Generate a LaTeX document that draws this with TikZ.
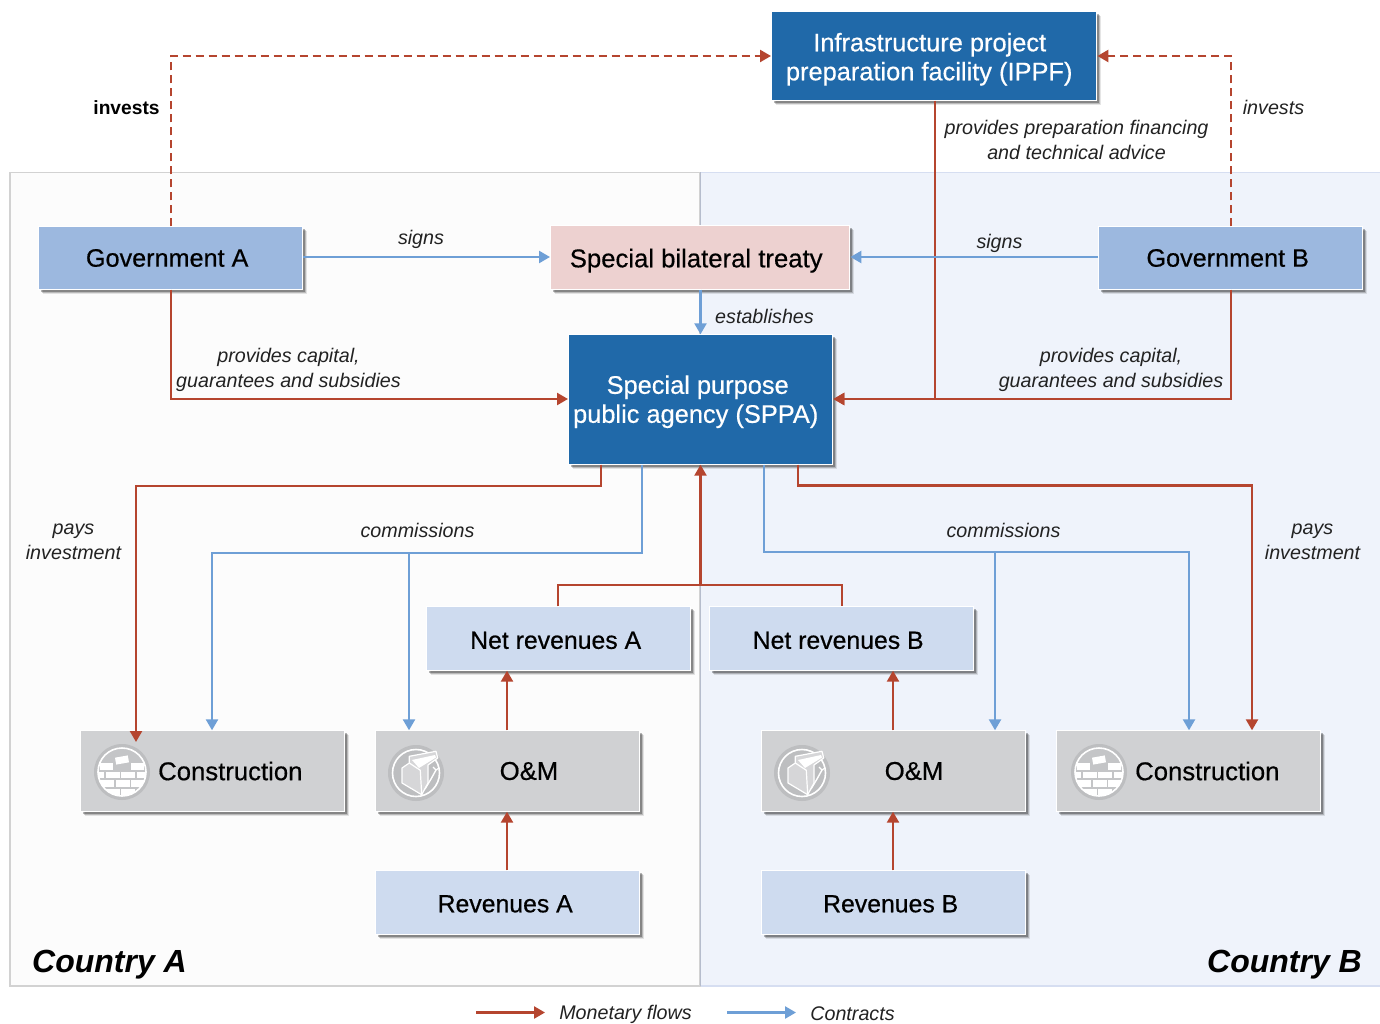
\documentclass[tikz,border=0pt]{standalone}
\usepackage{fontspec}
\setmainfont{Liberation Sans}
\newfontfamily\medfont[FakeBold=0.5]{Liberation Sans}
\usetikzlibrary{arrows.meta,shadows,calc}
\definecolor{moneyc}{HTML}{B5452F}
\definecolor{contractc}{HTML}{6E9FD6}
\definecolor{dkblue}{HTML}{2069A9}
\definecolor{midblue}{HTML}{9CB8DF}
\definecolor{ltblue}{HTML}{CEDBEF}
\definecolor{pinkb}{HTML}{EDD1D0}
\definecolor{greyb}{HTML}{D0D1D3}
\definecolor{iconring}{HTML}{BDBEC0}
\definecolor{iconfill}{HTML}{C4C5C7}
\definecolor{bgA}{HTML}{FCFCFC}
\definecolor{bgB}{HTML}{EFF3FB}
\definecolor{lineA}{HTML}{D2D2D2}
\definecolor{lineB}{HTML}{D6DEF1}
\definecolor{labelc}{HTML}{222222}
\newcommand{\boxfont}{\fontsize{25.7}{29}\selectfont\medfont}
\newcommand{\lowered}[2]{\raisebox{-#1pt}[\height][\depth]{\begin{tabular}{@{}c@{}}#2\end{tabular}}}
\tikzset{
  softshadow/.style={
    general shadow={shadow xshift=4.5pt,shadow yshift=-4.5pt,fill=black,opacity=.10},
    general shadow={shadow xshift=3.5pt,shadow yshift=-3.5pt,fill=black,opacity=.18},
    general shadow={shadow xshift=2.5pt,shadow yshift=-2.5pt,fill=black,opacity=.28}},
  boxbase/.style={softshadow,draw=white,line width=1pt,inner sep=0pt,align=center,font=\boxfont},
  dark/.style={boxbase,fill=dkblue,text=white,font=\fontsize{25.4}{29}\selectfont\medfont},
  gov/.style={boxbase,fill=midblue,text=black,minimum width=264.4pt,minimum height=62.4pt,font=\fontsize{25.2}{29}\selectfont\medfont},
  lite/.style={boxbase,fill=ltblue,text=black,minimum width=264.4pt,minimum height=63.4pt,font=\fontsize{24.8}{29}\selectfont\medfont},
  pinkbox/.style={boxbase,fill=pinkb,text=black},
  grey/.style={boxbase,fill=greyb,text=black,minimum width=264.4pt,minimum height=80.4pt},
  boxtext/.style={font=\boxfont,inner sep=0pt},
  tip/.style={-{Triangle[length=11pt,width=12pt]}},
  money/.style={tip,draw=moneyc,color=moneyc,line width=2.4pt},
  contract/.style={tip,draw=contractc,color=contractc,line width=2.4pt},
  lbl/.style={font=\fontsize{19.7}{25}\selectfont\itshape,text=labelc,inner sep=0pt,align=center},
  region/.style={font=\fontsize{32}{38}\selectfont\bfseries\itshape,text=black,inner sep=0pt},
}
\newcommand{\bricks}[2]{%
  \begin{scope}[shift={(#1,#2)}]
    \fill[iconring] (0,0) circle (28);
    \draw[white,line width=1.6pt,fill=iconfill] (0,0) circle (24);
    \begin{scope}
      \clip (0,0) circle (24);
      \foreach \xa/\xb/\y in {-22/-9/-5.5, 9/22/-5.5,
         -16.5/-2.5/3, -1/13/3, 14.5/27/3, -30/-18/3,
         -23/-8/11.5, -6.5/7.5/11.5, 9/24/11.5,
         -16.5/-2.5/20, -1/13/20, 14.5/27/20, -30/-18/20}{
        \fill[white] (\xa,\y-3.4) rectangle (\xb,\y+3.4);}
    \end{scope}
    \fill[white,rotate around={10:(0,-12)}] (-6.5,-15.5) rectangle (6.5,-8.5);
  \end{scope}}
\newcommand{\toolbox}[2]{%
  \begin{scope}[shift={(#1,#2)}]
    \fill[iconring] (0,0) circle (28);
    \draw[white,line width=1.6pt] (0,0) circle (23.5);
    \fill[iconfill!70!white,draw=white,line width=1.2pt,line join=round] (-14,-5) -- (-6.7,-10) -- (-6.7,-16.7) -- (20,-21.7) -- (21.7,-15) -- (12,-8) -- (12,10) -- (5.7,21.7) -- (-14,10) -- cycle;
    \fill[white] (-4,-13) -- (19,-18) -- (20,-15.5) -- (3,-5) -- cycle;
    \draw[white,line width=1.2pt] (-6.7,-10) -- (4.3,-2.7) -- (5.7,21.7);
    \draw[white,line width=1.4pt] (20,-3) -- (15,6) -- (9,16);
    \draw[white,line width=1.2pt] (17,-6) -- (20,-3) -- (23,-5);
  \end{scope}}
\begin{document}
\begin{tikzpicture}[x=1pt,y=-1pt]
\useasboundingbox (0,0) rectangle (1380,1024);
\fill[white] (0,0) rectangle (1380,1024);
% regions
\draw[fill=bgA,draw=lineA,line width=1.5pt] (10,172.5) rectangle (700,986);
\fill[bgB] (701,172.5) rectangle (1380,986);
\draw[lineB,line width=1.5pt] (701,172.5) -- (1380,172.5) (701,986) -- (1380,986);
\draw[lineB!85!black,line width=1.5pt] (700.5,172.5) -- (700.5,986);
% boxes
\node[dark,minimum width=325.4pt,minimum height=88.4pt] (ippf) at (934.2,56) {\lowered{4}{Infrastructure project\hspace*{9pt}\\preparation facility (IPPF)\hspace*{10pt}}};
\node[gov] (gova) at (170.7,258) {Government A\hspace*{7pt}};
\node[pinkbox,minimum width=299.4pt,minimum height=63.4pt] (treaty) at (700.2,257.5) {\lowered{4}{Special bilateral treaty\hspace*{8pt}}};
\node[gov] (govb) at (1230.7,258) {Government B\hspace*{6pt}};
\node[dark,minimum width=264.4pt,minimum height=129.4pt] (sppa) at (700.7,399.5) {\lowered{3}{Special purpose\hspace*{6pt}\\public agency (SPPA)\hspace*{10pt}}};
\node[lite] (neta) at (558.7,638.5) {\lowered{4.5}{Net revenues A\hspace*{6pt}}};
\node[lite] (netb) at (841.2,638.5) {\lowered{4.5}{Net revenues B\hspace*{6pt}}};
\node[grey] (consa) at (212.2,771) {};
\node[grey] (oma) at (507.7,771) {};
\node[grey] (omb) at (893.2,771) {};
\node[grey] (consb) at (1188.7,771) {};
\node[lite] (reva) at (507.7,902.5) {\lowered{4}{Revenues A\hspace*{5pt}}};
\node[lite] (revb) at (893.2,902.5) {\lowered{4}{Revenues B\hspace*{5pt}}};
% icons and box texts
\bricks{122}{772}
\bricks{1099}{772}
\toolbox{416}{773}
\toolbox{802}{773}
\node[boxtext,anchor=west] (tca) at (158,771) {Construction};
\node[boxtext] (toa) at (529,771) {O\&M};
\node[boxtext] (tob) at (914,771) {O\&M};
\node[boxtext,anchor=west] (tcb) at (1135,771) {Construction};
% free corner and end coordinates
\coordinate (tipca) at (136,742);
% dashed
\draw[money,dash pattern=on 8pt off 5pt] (gova.north -| 171,0) -- (171,56) -- (ippf.west);
\draw[money,dash pattern=on 8pt off 5pt] (govb.north -| 1231,0) -- (1231,56) -- (ippf.east);
% solid money to SPPA
\draw[money] (gova.south -| 171,0) -- (171,399) -- (sppa.west |- 0,399);
\draw[money] (govb.south -| 1231,0) -- (1231,399) -- (sppa.east |- 0,399);
\draw[money] (ippf.south -| 935,0) -- (935,399) -- (sppa.east |- 0,399);
% contracts top
\draw[contract] (gova.east |- 0,257) -- (treaty.west |- 0,257);
\draw[contract] (govb.west |- 0,257) -- (treaty.east |- 0,257);
\draw[contract] (treaty.south -| 700.5,0) -- (sppa.north -| 700.5,0);
% below SPPA
\draw[money] (sppa.south -| 601,0) -- (601,486) -- (136,486) -- (tipca);
\draw[contract] (sppa.south -| 642,0) -- (642,553) -- (212,553) -- (consa.north -| 212,0);
\draw[contract] (409,553) -- (oma.north -| 409,0);
\draw[contract] (sppa.south -| 764,0) -- (764,552) -- (1189,552) -- (consb.north -| 1189,0);
\draw[contract] (995,552) -- (omb.north -| 995,0);
\draw[money] (sppa.south -| 798,0) -- (798,485.5) -- (1252,485.5) -- (consb.north -| 1252,0);
\draw[money,-] (neta.north -| 558,0) -- (558,585) -- (842,585) -- (netb.north -| 842,0);
\draw[money] (700.5,585) -- (sppa.south -| 700.5,0);
\draw[money] (oma.north -| 507,0) -- (neta.south -| 507,0);
\draw[money] (omb.north -| 893,0) -- (netb.south -| 893,0);
\draw[money] (reva.north -| 507,0) -- (oma.south -| 507,0);
\draw[money] (revb.north -| 893,0) -- (omb.south -| 893,0);
% labels
\node[font=\fontsize{19.2}{25}\selectfont\bfseries,inner sep=0pt] (l1) at (126.5,107.5) {invests};
\node[lbl] (l2) at (1273.5,107) {invests};
\node[lbl] (l3) at (1076.5,140) {provides preparation financing\\and technical advice};
\node[lbl] (l4) at (421,239) {signs};
\node[lbl] (l5) at (999.5,243) {signs};
\node[lbl] (l6) at (764.5,316) {establishes};
\node[lbl] (l7) at (288.5,369.5) {provides capital,\\guarantees and subsidies};
\node[lbl] (l8) at (1111,369.5) {provides capital,\\guarantees and subsidies};
\node[lbl] (l9) at (73.5,541.5) {pays\\investment};
\node[lbl] (l10) at (1312.5,541.5) {pays\\investment};
\node[lbl] (l11) at (417.5,530) {commissions};
\node[lbl] (l12) at (1003.5,530) {commissions};
\node[region,anchor=west] (ca) at (32,964.5) {Country A};
\node[region,anchor=east] (cb) at (1362,964.5) {Country B};
% legend
\coordinate (m1) at (476,1012.5); \coordinate (m2) at (545,1012.5);
\coordinate (c1) at (727,1012.5); \coordinate (c2) at (796,1012.5);
\draw[money] (m1) -- (m2);
\draw[contract] (c1) -- (c2);
\node[lbl] (lg1) at (625.5,1014) {Monetary flows};
\node[lbl] (lg2) at (852.5,1013.5) {Contracts};
\end{tikzpicture}
\end{document}
